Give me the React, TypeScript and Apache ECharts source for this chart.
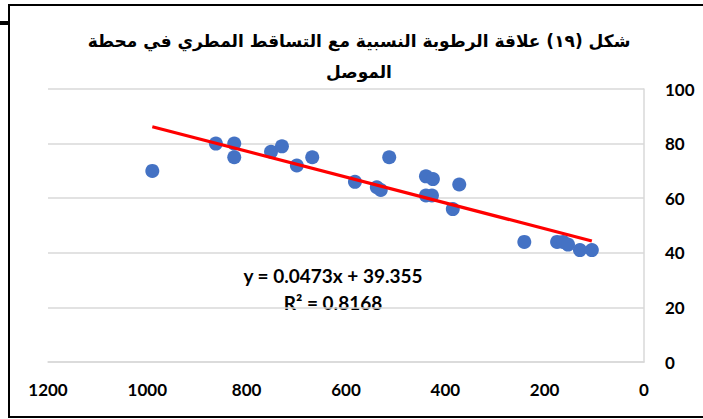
import React, { useEffect, useRef } from "react";
import * as echarts from "echarts";

const titleText = "شكل (١٩) علاقة الرطوبة النسبية مع التساقط المطري في محطة\nالموصل";
const xTicks = [0, 200, 400, 600, 800, 1000, 1200];
const rainfall = [990, 862, 825, 825, 751, 729, 699, 668, 582, 538, 530, 513, 439, 425, 439, 427, 372, 385, 241, 175, 163, 153, 129, 105];
const humidity = [70, 80, 80, 75, 77, 79, 72, 75, 66, 64, 63, 75, 68, 67, 61, 61, 65, 56, 44, 44, 44, 43, 41, 41];
const slope = 0.0473;
const intercept = 39.355;
const equationLines = ["y = 0.0473x + 39.355", "R² = 0.8168"];

export default function App() {
  const ref = useRef<HTMLDivElement>(null);
  useEffect(() => {
    const chart = echarts.init(ref.current!, null, { renderer: "svg" });
    const points = rainfall.map((x, i) => [x, humidity[i]]);
    const xMin = Math.min(...rainfall);
    const xMax = Math.max(...rainfall);
    const trend = [
      [xMax, slope * xMax + intercept],
      [xMin, slope * xMin + intercept],
    ];
    const font = "Lato, 'Open Sans', sans-serif";
    chart.setOption({
      animation: false,
      backgroundColor: "#ffffff",
      title: {
        text: titleText,
        left: 354,
        top: 20,
        textAlign: "center",
        textStyle: {
          fontFamily: "'DejaVu Sans', sans-serif",
          fontWeight: "bold",
          fontSize: 17,
          lineHeight: 31,
          color: "#000",
        },
      },
      grid: { left: 48, right: 59, top: 89, bottom: 57 },
      xAxis: {
        type: "value",
        min: 0,
        max: 1200,
        interval: 200,
        inverse: true,
        axisLine: { show: true, lineStyle: { color: "#d9d9d9", width: 1.5 } },
        axisTick: { show: false },
        splitLine: { show: false },
        axisLabel: {
          margin: 19,
          fontFamily: font,
          fontWeight: "bold",
          fontSize: 17,
          color: "#000",
          formatter: (v: number) => (xTicks.includes(v) ? String(v) : ""),
        },
      },
      yAxis: {
        type: "value",
        position: "right",
        min: 0,
        max: 100,
        interval: 20,
        axisLine: { show: true, lineStyle: { color: "#d9d9d9", width: 1.5 } },
        axisTick: { show: false },
        splitLine: { show: true, lineStyle: { color: "#d9d9d9", width: 1.5 } },
        axisLabel: {
          margin: 21,
          align: "left",
          fontFamily: font,
          fontWeight: "bold",
          fontSize: 17,
          color: "#000",
        },
      },
      series: [
        {
          type: "line",
          data: trend,
          showSymbol: false,
          lineStyle: { color: "#ff0000", width: 3.2 },
          silent: true,
          z: 3,
        },
        {
          type: "scatter",
          data: points,
          symbol: "circle",
          symbolSize: 14,
          itemStyle: { color: "#4472c4", opacity: 1 },
          z: 2,
        },
      ],
      graphic: [
        {
          type: "rect",
          shape: { x: 9, y: 5, width: 720, height: 412 },
          style: { fill: "none", stroke: "#000", lineWidth: 2 },
          silent: true,
        },
        {
          type: "rect",
          shape: { x: 0, y: 21, width: 9, height: 4 },
          style: { fill: "#000" },
          silent: true,
        },
        {
          type: "text",
          x: 333,
          y: 275,
          style: {
            text: equationLines[0],
            fontFamily: font,
            fontWeight: "bold",
            fontSize: 19,
            fill: "#000",
            align: "center",
            verticalAlign: "middle",
          },
        },
        {
          type: "text",
          x: 333,
          y: 302,
          style: {
            text: equationLines[1],
            fontFamily: font,
            fontWeight: "bold",
            fontSize: 19,
            fill: "#000",
            align: "center",
            verticalAlign: "middle",
          },
        },
      ],
    });
    return () => chart.dispose();
  }, []);
  return (
    <div
      ref={ref}
      style={{ position: "fixed", left: 0, top: 0, width: 703, height: 419 }}
    />
  );
}
